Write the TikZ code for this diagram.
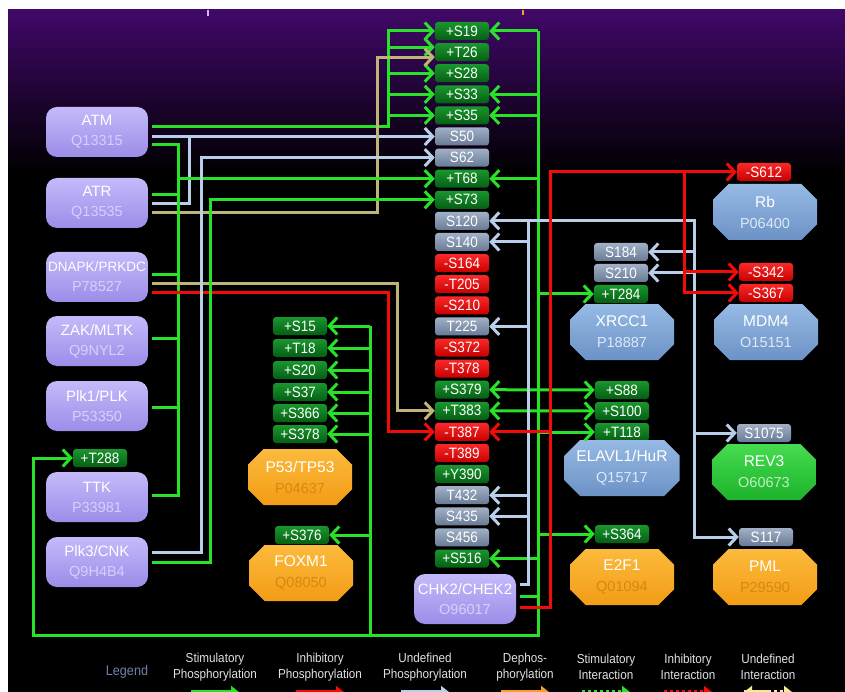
\documentclass[tikz,border=0pt]{standalone}
\usepackage{fontspec}
\setmainfont{Liberation Sans}
\newfontfamily\narrowsf[FakeStretch=0.9]{Liberation Sans}
\usetikzlibrary{arrows.meta,shapes.misc}
\definecolor{bgPurple}{RGB}{64,8,104}
\definecolor{kinTop}{RGB}{196,186,250}
\definecolor{kinBot}{RGB}{156,140,232}
\definecolor{kinId}{RGB}{214,208,252}
\definecolor{sgTop}{RGB}{25,150,45}
\definecolor{sgBot}{RGB}{5,95,20}
\definecolor{syTop}{RGB}{160,176,198}
\definecolor{syBot}{RGB}{105,122,150}
\definecolor{srTop}{RGB}{250,40,40}
\definecolor{srBot}{RGB}{200,0,0}
\definecolor{lnG}{RGB}{40,225,40}
\definecolor{lnB}{RGB}{185,206,232}
\definecolor{lnT}{RGB}{190,180,120}
\definecolor{lnR}{RGB}{245,10,10}
\definecolor{lnO}{RGB}{245,160,40}
\definecolor{lnY}{RGB}{245,235,150}
\definecolor{subBTop}{RGB}{150,186,228}
\definecolor{subBBot}{RGB}{108,146,198}
\definecolor{subBId}{RGB}{222,232,248}
\definecolor{subOTop}{RGB}{252,186,60}
\definecolor{subOBot}{RGB}{242,156,22}
\definecolor{subOId}{RGB}{214,136,16}
\definecolor{subGTop}{RGB}{70,220,80}
\definecolor{subGBot}{RGB}{28,178,42}
\definecolor{subGId}{RGB}{190,240,190}
\definecolor{lgText}{RGB}{225,225,225}
\definecolor{lgHead}{RGB}{110,130,170}
\newcommand\ddrkid[1]{{\color{kinId}\fontsize{14.5}{20}\selectfont#1}}
\newcommand\ddrid[2]{{\color{#1}\fontsize{14.5}{21}\selectfont#2}}
\tikzset{ddrK/.style={rounded corners=11pt,minimum width=102pt,minimum height=50pt,inner sep=0pt,outer sep=4pt,
           top color=kinTop,bottom color=kinBot,align=center,text=white,font=\fontsize{15}{20}\selectfont},
         ddrSub/.style={chamfered rectangle,chamfered rectangle angle=45,chamfered rectangle xsep=12pt,
           minimum width=104pt,minimum height=56pt,inner sep=0pt,outer sep=3pt,align=center,text=white,
           font=\fontsize{15.5}{21}\selectfont},
         ddrSubB/.style={ddrSub,top color=subBTop,bottom color=subBBot},
         ddrSubO/.style={ddrSub,top color=subOTop,bottom color=subOBot},
         ddrSubG/.style={ddrSub,top color=subGTop,bottom color=subGBot},
         ddrS/.style={minimum width=54pt,minimum height=18pt,inner sep=0pt,rounded corners=3pt,text=white,
           font=\narrowsf\fontsize{15}{15}\selectfont},
         siteG/.style={ddrS,top color=sgTop,bottom color=sgBot},
         siteY/.style={ddrS,top color=syTop,bottom color=syBot},
         siteR/.style={ddrS,top color=srTop,bottom color=srBot},
         ddrL/.style={line width=3pt},
         ddrA/.style={ddrL,-{Straight Barb[length=8pt,width=17pt]}},
         ddrD/.style={ddrL,{Straight Barb[length=8pt,width=17pt]}-{Straight Barb[length=8pt,width=17pt]}},
         ddrLt/.style={text=lgText,align=center,inner sep=0pt,font=\narrowsf\fontsize{13}{15.5}\selectfont}}
\begin{document}
\begin{tikzpicture}[x=1pt,y=-1pt]
  \useasboundingbox (0,0) rectangle (845,692);
  \clip (0,0) rectangle (845,692);
  \fill[white] (0,0) rectangle (845,692);
  \shade[top color=bgPurple,bottom color=black] (8,10) rectangle (845,175);
  \fill[black] (8,175) rectangle (845,692);
  \draw[kinTop,line width=1.5pt] (208,10) -- (208,16);
  \draw[lnO,line width=1.5pt] (523,10) -- (523,15);

  \foreach \n/\l/\s [count=\i from 0] in {S19/+S19/siteG,T26/+T26/siteG,S28/+S28/siteG,S33/+S33/siteG,
      S35/+S35/siteG,S50/S50/siteY,S62/S62/siteY,T68/+T68/siteG,S73/+S73/siteG,S120/S120/siteY,
      S140/S140/siteY,S164/-S164/siteR,T205/-T205/siteR,S210/-S210/siteR,T225/T225/siteY,
      S372/-S372/siteR,T378/-T378/siteR,S379/+S379/siteG,T383/+T383/siteG,T387/-T387/siteR,
      T389/-T389/siteR,Y390/+Y390/siteG,T432/T432/siteY,S435/S435/siteY,S456/S456/siteY,S516/+S516/siteG}
    \node[\s] (c\n) at (462,{31+21.1*\i}) {\l};
  \foreach \x/\y/\n/\l/\s in {100/458/T288/+T288/siteG,300/326/S15/+S15/siteG,300/348/T18/+T18/siteG,
      300/370/S20/+S20/siteG,300/392/S37/+S37/siteG,300/413/S366/+S366/siteG,300/434/S378/+S378/siteG,
      302/535/S376/+S376/siteG,764/172/S612/-S612/siteR,621/252/S184/S184/siteY,621/273/S210/S210/siteY,
      621/294/T284/+T284/siteG,766/272/S342/-S342/siteR,766/293/S367/-S367/siteR,622/390/S88/+S88/siteG,
      622/411/S100/+S100/siteG,622/432/T118/+T118/siteG,764/433/S1075/S1075/siteY,622/534/S364/+S364/siteG,
      766/537/S117/S117/siteY}
    \node[\s] (\n) at (\x,\y) {\l};

  \node[ddrK] (ATM) at (97,132) {ATM\\\ddrkid{Q13315}};
  \node[ddrK] (ATR) at (97,203) {ATR\\\ddrkid{Q13535}};
  \node[ddrK] (DNAPK) at (97,277) {{\fontsize{13.5}{20}\selectfont DNAPK/PRKDC}\\\ddrkid{P78527}};
  \node[ddrK] (ZAK) at (97,341) {ZAK/MLTK\\\ddrkid{Q9NYL2}};
  \node[ddrK] (Plk1) at (97,406) {Plk1/PLK\\\ddrkid{P53350}};
  \node[ddrK] (TTK) at (97,497) {TTK\\\ddrkid{P33981}};
  \node[ddrK] (Plk3) at (97,562) {Plk3/CNK\\\ddrkid{Q9H4B4}};
  \node[ddrK] (CHK2) at (465,599) {CHK2/CHEK2\\\ddrkid{O96017}};

  \node[ddrSubO] (P53) at (300,477) {P53/TP53\\\ddrid{subOId}{P04637}};
  \node[ddrSubO] (FOXM1) at (301,573) {FOXM1\\\ddrid{subOId}{Q08050}};
  \node[ddrSubB] (Rb) at (765,212) {Rb\\\ddrid{subBId}{P06400}};
  \node[ddrSubB] (XRCC1) at (622,332) {XRCC1\\\ddrid{subBId}{P18887}};
  \node[ddrSubB] (MDM4) at (766,332) {MDM4\\\ddrid{subBId}{O15151}};
  \node[ddrSubB] (HuR) at (622,468) {ELAVL1/HuR\\\ddrid{subBId}{Q15717}};
  \node[ddrSubG] (REV3) at (764,472) {REV3\\\ddrid{subGId}{O60673}};
  \node[ddrSubO] (E2F1) at (622,577) {E2F1\\\ddrid{subOId}{Q01094}};
  \node[ddrSubO] (PML) at (765,577) {PML\\\ddrid{subOId}{P29590}};

  \coordinate (xG1) at (388,0); \coordinate (xT1) at (377,0); \coordinate (xT2) at (397,0);
  \coordinate (xR1) at (388,0); \coordinate (xG2) at (178,0); \coordinate (xB1) at (189,0);
  \coordinate (xB2) at (201,0); \coordinate (xG3) at (210,0); \coordinate (xG5) at (370,0);
  \coordinate (xB3) at (528,0); \coordinate (xG4) at (538,0); \coordinate (xR2) at (550,0);
  \coordinate (xR3) at (684,0); \coordinate (xB4) at (694,0);
  \coordinate (gBot) at (538,635); \coordinate (gLeft) at (33,635);

  \draw[ddrA,lnG] ([yshift=5pt]ATM.east) -| (cS19.west -| xG1) -- (cS19.west);
  \foreach \n/\d in {T26/5pt,S28/0pt,S33/0pt,S35/0pt}
    \draw[ddrA,lnG] ([yshift=\d]c\n.west -| xG1) -- ([yshift=\d]c\n.west);
  \draw[ddrA,lnB] (ATM.east |- cS50) -- (cS50.west);
  \draw[ddrL,lnB] ([yshift=-1pt]ATR.east) -| (cS50.west -| xB1);
  \draw[ddrA,lnT] ([yshift=-10pt]ATR.east) -| ([yshift=-5pt]cT26.west -| xT1) -- ([yshift=-5pt]cT26.west);
  \draw[ddrL,lnG] ([yshift=-13pt]ATM.east) -| ([yshift=2pt]TTK.east -| xG2) -- ([yshift=2pt]TTK.east);
  \foreach \k/\d in {ATR/8pt,DNAPK/2pt,ZAK/3pt,Plk1/-1pt}
    \draw[ddrL,lnG] ([yshift=\d]\k.east) -- ([yshift=\d]\k.east -| xG2);
  \draw[ddrA,lnG] (cT68.west -| xG2) -- (cT68.west);
  \draw[ddrA,lnT] ([yshift=-7pt]DNAPK.east) -| (cT383.west -| xT2) -- (cT383.west);
  \draw[ddrA,lnR] ([yshift=-16pt]DNAPK.east) -| (cT387.west -| xR1) -- (cT387.west);
  \draw[ddrA,lnB] ([yshift=10pt]Plk3.east) -| (cS62.west -| xB2) -- (cS62.west);
  \draw[ddrA,lnG] (Plk3.east) -| (cS73.west -| xG3) -- (cS73.west);

  \draw[ddrL,lnG] ([yshift=3pt]CHK2.east) -- ([yshift=3pt]CHK2.east -| xG4);
  \draw[ddrA,lnG] (cS19.east -| xG4) -- (gBot) -- (gLeft) |- (T288.west);
  \foreach \n in {S19,S33,S35,T68,S516}
    \draw[ddrA,lnG] (c\n.east -| xG4) -- (c\n.east);
  \foreach \n in {T284,T118,S364}
    \draw[ddrA,lnG] (\n.west -| xG4) -- (\n.west);
  \draw[ddrD,lnG] (cS379.east) -- (S88.west);
  \draw[ddrD,lnG] (cT383.east) -- (S100.west);
  \draw[ddrL,lnG] (S15.east -| xG5) -- (gBot -| xG5);
  \foreach \n in {S15,T18,S20,S37,S366,S378,S376}
    \draw[ddrA,lnG] (\n.east -| xG5) -- (\n.east);
  \draw[ddrA,lnB] ([yshift=15pt]CHK2.east) -| (cS120.east -| xB3) -- (cS120.east);
  \foreach \n in {S140,T225,T432,S435}
    \draw[ddrA,lnB] (c\n.east -| xB3) -- (c\n.east);
  \draw[ddrA,lnB] (cS120.east -| xB3) -| (S117.west -| xB4) -- (S117.west);
  \foreach \n in {S184,S210}
    \draw[ddrA,lnB] (\n.east -| xB4) -- (\n.east);
  \draw[ddrA,lnB] (S1075.west -| xB4) -- (S1075.west);
  \draw[ddrA,lnR] ([yshift=-8pt]CHK2.east) -| (S612.west -| xR2) -- (S612.west);
  \draw[ddrA,lnR] (cT387.east -| xR2) -- (cT387.east);
  \draw[ddrA,lnR] (S612.west -| xR3) |- (S367.west);
  \draw[ddrA,lnR] (S342.west -| xR3) -- (S342.west);

  \node[text=lgHead,font=\narrowsf\fontsize{14}{14}\selectfont] (lgd) at (127,672) {Legend};
  \foreach \x/\a/\b/\c/\t in {215/Stimulatory/Phosphorylation/lnG/solid,320/Inhibitory/Phosphorylation/lnR/solid,
      425/Undefined/Phosphorylation/lnB/solid,525/Dephos-/phorylation/lnO/solid,606/Stimulatory/Interaction/lnG/dashed,
      688/Inhibitory/Interaction/lnR/dashed,768/Undefined/Interaction/lnY/dashed}
    {\node[ddrLt] (lg\x) at (\x,667) {\a\\\b};
     \draw[\c,\t,line width=4pt,-{Triangle[length=8pt,width=12pt]}] (\x-24,692) -- (\x+24,692);}
  \draw[lnY,dashed,line width=4pt,-{Triangle[length=8pt,width=12pt]}] (768,692) -- (744,692);
\end{tikzpicture}
\end{document}
